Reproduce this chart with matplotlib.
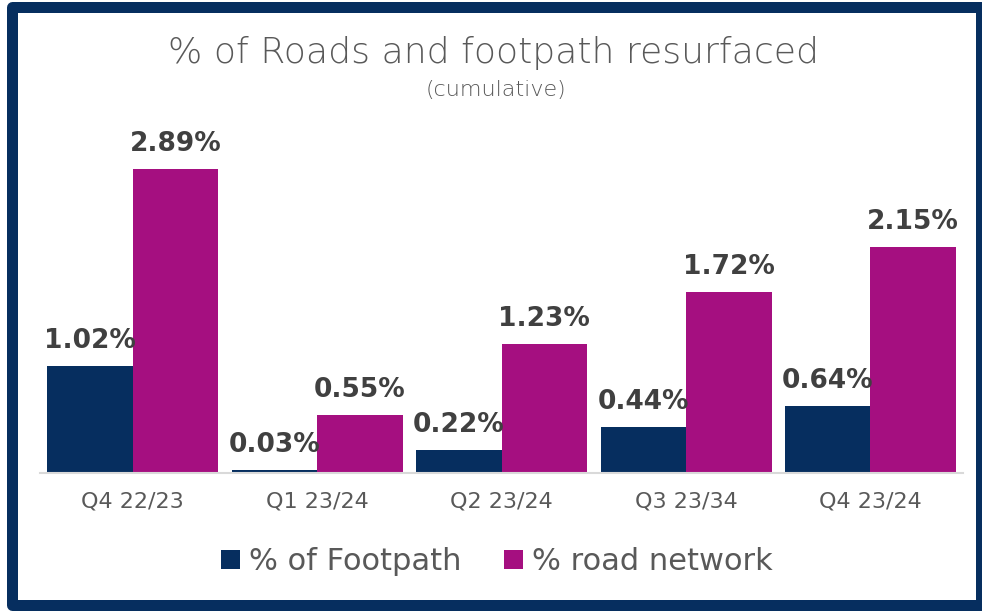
import matplotlib
matplotlib.use("Agg")
import matplotlib.pyplot as plt
import numpy as np
from matplotlib.patches import Rectangle

categories = ["Q4 22/23", "Q1 23/24", "Q2 23/24", "Q3 23/34", "Q4 23/24"]
footpath = [1.02, 0.03, 0.22, 0.44, 0.64]
road = [2.89, 0.55, 1.23, 1.72, 2.15]
series_names = ["% of Footpath", "% road network"]
title = "% of Roads and footpath resurfaced"
subtitle = "(cumulative)"

navy = "#062e5f"
magenta = "#a50f80"
label_col = "#404040"
text_col = "#595959"

plt.rcParams['font.family'] = ['DejaVu Sans']

W, H = 982, 613
fig = plt.figure(figsize=(W / 100, H / 100), dpi=100)
fig.patch.set_facecolor("white")

ax_left, ax_right = 40.25, 962.75
ax_bottom, ax_top = 473, 110
ax = fig.add_axes([ax_left / W, (H - ax_bottom) / H, (ax_right - ax_left) / W, (ax_bottom - ax_top) / H])

x = np.arange(len(categories))
bw = 85.5 / 184.5
b1 = ax.bar(x - bw / 2, footpath, width=bw, color=navy, label=series_names[0], edgecolor="none")
b2 = ax.bar(x + bw / 2, road, width=bw, color=magenta, label=series_names[1], edgecolor="none")

ax.set_xlim(-0.5, len(categories) - 0.5)
ax.set_ylim(0, (ax_bottom - ax_top) / 105.2)

for bars, vals in ((b1, footpath), (b2, road)):
    for rect, v in zip(bars, vals):
        ax.annotate(f"{v:.2f}%", (rect.get_x() + rect.get_width() / 2, v),
                    xytext=(0, 12), textcoords="offset pixels",
                    ha="center", va="bottom", fontsize=19, fontweight="bold",
                    color=label_col)

for s in ["top", "right", "left"]:
    ax.spines[s].set_visible(False)
ax.spines["bottom"].set_color("#d9d9d9")
ax.spines["bottom"].set_linewidth(1.5)
ax.set_yticks([])
ax.set_xticks(x)
ax.set_xticklabels(categories, fontsize=16, color=text_col)
ax.tick_params(axis="x", length=0, pad=13)

fig.text(494 / W, 1 - 53 / H, title, ha="center", va="center", fontsize=26,
         fontweight="light", color=text_col)
fig.text(496 / W, 1 - 90 / H, subtitle, ha="center", va="center", fontsize=16,
         fontweight="light", color=text_col)

handles = [b1, b2]
fig.legend(handles, series_names, loc="center", bbox_to_anchor=(497 / W, 1 - 562 / H),
           ncol=2, frameon=False, fontsize=22, labelcolor=text_col,
           handlelength=0.6, handleheight=0.6, handletextpad=0.3, columnspacing=1.4)

lw_px = 11
fig.patches.append(Rectangle((11.5 / W, (H - 605) / H), (980.5 - 11.5) / W, (605 - 7) / H,
                             transform=fig.transFigure, fill=False, edgecolor=navy,
                             linewidth=lw_px * 72 / 100, joinstyle="round", zorder=10))

fig.savefig("out.png", dpi=100, facecolor="white")
